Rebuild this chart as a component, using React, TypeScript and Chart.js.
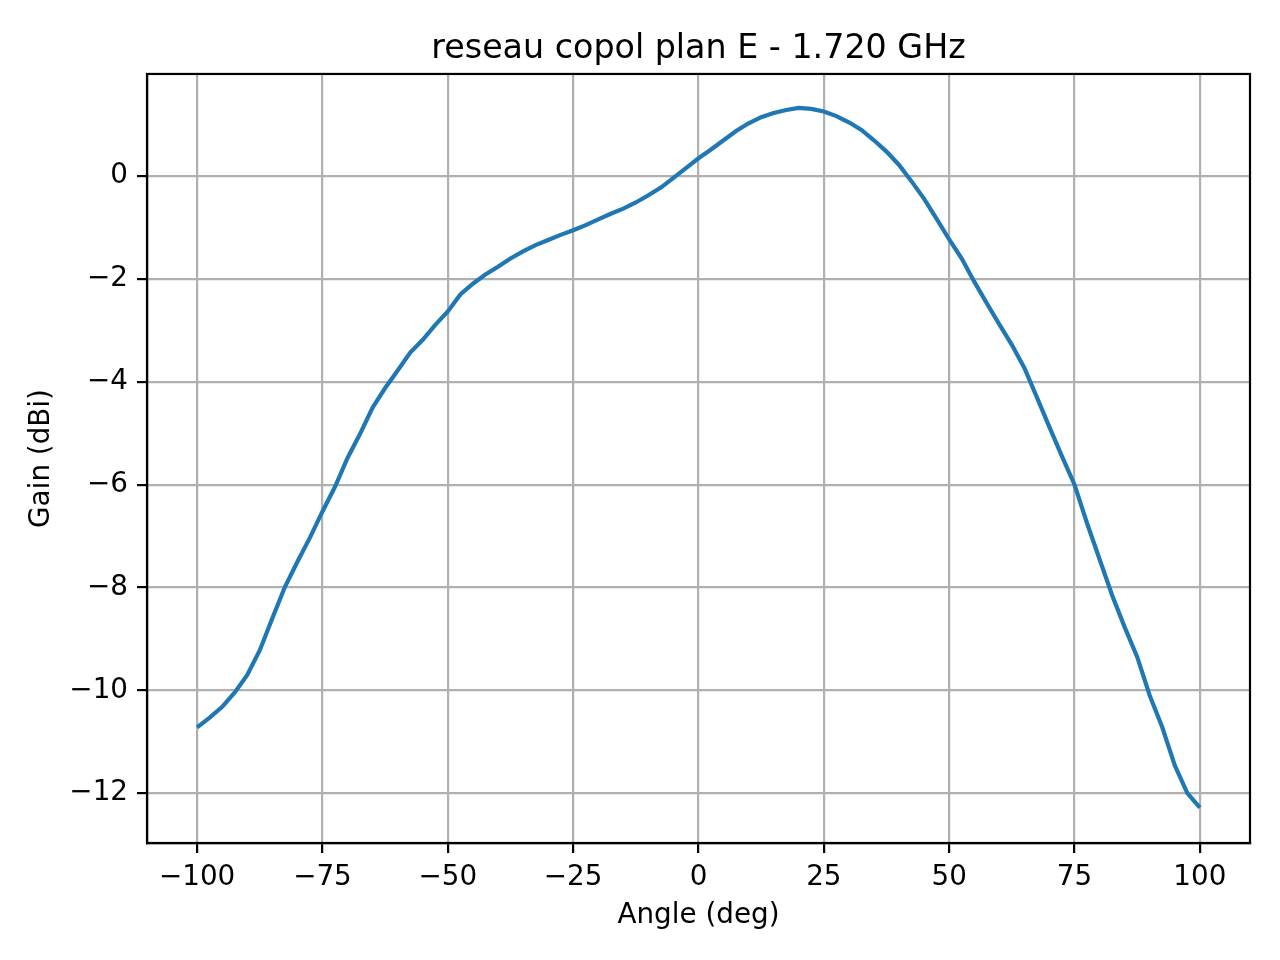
import { useEffect, useRef } from "react";
import { Chart, registerables } from "chart.js";

Chart.register(...registerables);

const title = "reseau copol plan E - 1.720 GHz";
const xLabel = "Angle (deg)";
const yLabel = "Gain (dBi)";

const angles = [
  -100, -97.5, -95, -92.5, -90, -87.5, -85, -82.5, -80, -77.5,
  -75, -72.5, -70, -67.5, -65, -62.5, -60, -57.5, -55, -52.5,
  -50, -47.5, -45, -42.5, -40, -37.5, -35, -32.5, -30, -27.5,
  -25, -22.5, -20, -17.5, -15, -12.5, -10, -7.5, -5, -2.5,
  0, 2.5, 5, 7.5, 10, 12.5, 15, 17.5, 20, 22.5,
  25, 27.5, 30, 32.5, 35, 37.5, 40, 42.5, 45, 47.5,
  50, 52.5, 55, 57.5, 60, 62.5, 65, 67.5, 70, 72.5,
  75, 77.5, 80, 82.5, 85, 87.5, 90, 92.5, 95, 97.5,
  100,
];

const gains = [
  -10.72, -10.53, -10.32, -10.04, -9.7, -9.22, -8.6, -7.99, -7.5, -7.03,
  -6.52, -6.04, -5.48, -5.01, -4.5, -4.12, -3.78, -3.43, -3.18, -2.89,
  -2.63, -2.3, -2.09, -1.91, -1.76, -1.6, -1.46, -1.34, -1.24, -1.14,
  -1.05, -0.95, -0.84, -0.73, -0.63, -0.51, -0.37, -0.22, -0.03, 0.16,
  0.35, 0.52, 0.7, 0.88, 1.03, 1.15, 1.23, 1.29, 1.33, 1.31,
  1.26, 1.17, 1.05, 0.9, 0.7, 0.48, 0.22, -0.1, -0.44, -0.83,
  -1.23, -1.6, -2.05, -2.47, -2.88, -3.28, -3.73, -4.3, -4.88, -5.45,
  -6.0, -6.75, -7.45, -8.15, -8.77, -9.35, -10.1, -10.72, -11.46, -12.0,
  -12.28,
];

const font = "'DejaVu Sans', sans-serif";

// tick labels use the unicode minus like matplotlib
const fmt = (v: number | string) => {
  const n = Number(v);
  return n < 0 ? "\u2212" + Math.abs(n) : String(n);
};

// box around the plot area (top and right spines too)
const frame = {
  id: "frame",
  afterDraw(chart: Chart) {
    const { ctx, chartArea } = chart;
    ctx.save();
    ctx.strokeStyle = "#000";
    ctx.lineWidth = 2.2;
    ctx.strokeRect(
      chartArea.left,
      chartArea.top,
      chartArea.right - chartArea.left,
      chartArea.bottom - chartArea.top
    );
    ctx.restore();
  },
};

export default function App() {
  const canvasRef = useRef<HTMLCanvasElement>(null);

  useEffect(() => {
    if (!canvasRef.current) return;
    const chart = new Chart(canvasRef.current, {
      type: "line",
      data: {
        datasets: [
          {
            data: angles.map((a, i) => ({ x: a, y: gains[i] })),
            borderColor: "#1f77b4",
            borderWidth: 4.2,
            pointRadius: 0,
            tension: 0,
            fill: false,
          },
        ],
      },
      options: {
        animation: false,
        responsive: true,
        maintainAspectRatio: false,
        layout: { padding: { left: 0, right: 30, top: 0, bottom: 0 } },
        plugins: {
          legend: { display: false },
          tooltip: { enabled: false },
          title: {
            display: true,
            fullSize: false,
            text: title,
            color: "#000",
            font: { family: font, size: 33.3, weight: "normal" },
            padding: { top: 29, bottom: 5 },
          },
        },
        scales: {
          x: {
            type: "linear",
            min: -110,
            max: 110,
            afterFit: (scale: any) => {
              scale.height = 117;
            },
            ticks: {
              stepSize: 25,
              includeBounds: false,
              color: "#000",
              padding: 8,
              maxRotation: 0,
              font: { family: font, size: 27.8 },
              callback: fmt,
            },
            grid: {
              color: "#b0b0b0",
              lineWidth: 2.2,
              tickColor: "#000",
              tickLength: 10,
              tickWidth: 2.2,
            },
            border: { display: true, color: "#000", width: 2.2 },
            title: {
              display: true,
              text: xLabel,
              color: "#000",
              font: { family: font, size: 27.8 },
              padding: { top: 0, bottom: 28 },
            },
          },
          y: {
            type: "linear",
            min: -12.97,
            max: 1.99,
            afterFit: (scale: any) => {
              scale.width = 147;
            },
            ticks: {
              stepSize: 2,
              includeBounds: false,
              color: "#000",
              padding: 9,
              font: { family: font, size: 27.8 },
              callback: fmt,
            },
            grid: {
              color: "#b0b0b0",
              lineWidth: 2.2,
              tickColor: "#000",
              tickLength: 10,
              tickWidth: 2.2,
            },
            border: { display: true, color: "#000", width: 2.2 },
            title: {
              display: true,
              text: yLabel,
              color: "#000",
              font: { family: font, size: 27.8 },
              padding: { top: 25, bottom: 0 },
            },
          },
        },
      },
      plugins: [frame],
    });
    return () => chart.destroy();
  }, []);

  return (
    <div
      style={{
        position: "absolute",
        left: 0,
        top: 0,
        width: 1280,
        height: 960,
        background: "#fff",
      }}
    >
      <canvas ref={canvasRef}></canvas>
    </div>
  );
}
